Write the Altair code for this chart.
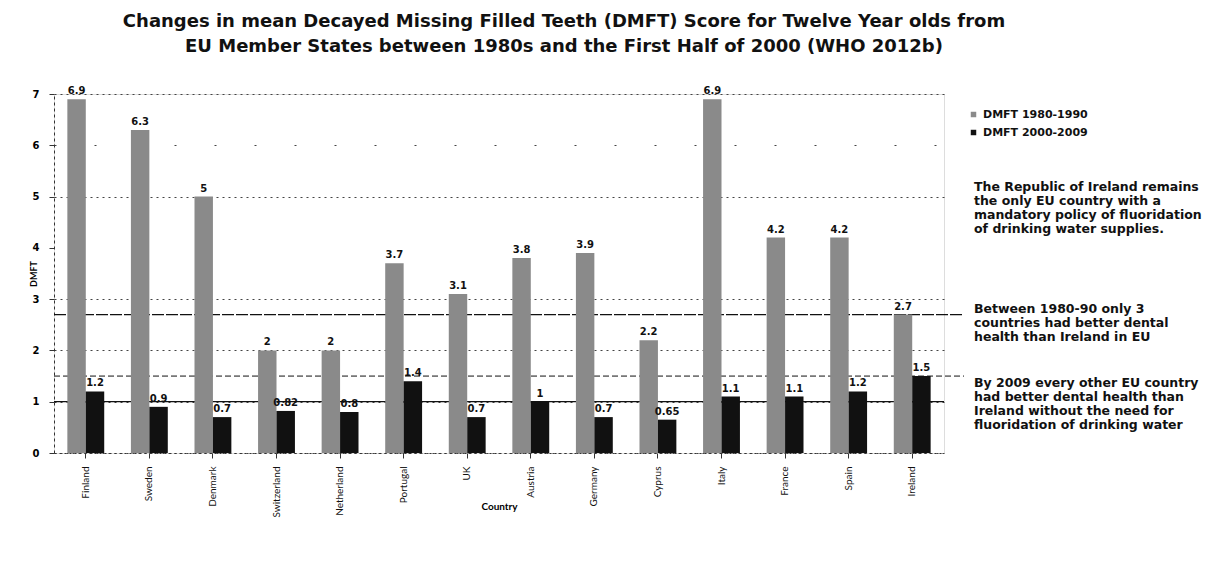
import altair as alt
import pandas as pd

countries = ["Finland", "Sweden", "Denmark", "Switzerland", "Netherland", "Portugal", "UK",
             "Austria", "Germany", "Cyprus", "Italy", "France", "Spain", "Ireland"]
dmft_1980 = [6.9, 6.3, 5, 2, 2, 3.7, 3.1, 3.8, 3.9, 2.2, 6.9, 4.2, 4.2, 2.7]
dmft_2000 = [1.2, 0.9, 0.7, 0.82, 0.8, 1.4, 0.7, 1, 0.7, 0.65, 1.1, 1.1, 1.2, 1.5]
series_names = ["DMFT 1980-1990", "DMFT 2000-2009"]
series_colors = ["#8a8a8a", "#111111"]
reference_levels = [1.0, 1.5, 2.7]
note1 = ["The Republic of Ireland remains", "the only EU country with a",
         "mandatory policy of fluoridation", "of drinking water supplies."]
note2 = ["Between 1980-90 only 3", "countries had better dental", "health than Ireland in EU"]
note3 = ["By 2009 every other EU country", "had better dental health than",
         "Ireland without the need for", "fluoridation of drinking water"]

rows = []
for c, a, b in zip(countries, dmft_1980, dmft_2000):
    rows.append({"Country": c, "Series": series_names[0], "DMFT": a, "label": f"{a:g}"})
    rows.append({"Country": c, "Series": series_names[1], "DMFT": b, "label": f"{b:g}"})
df = pd.DataFrame(rows)

FONT = "Lato"
NFONT = "DejaVu Sans"
W, H = 890, 359

x_enc = alt.X("Country:N", sort=countries, title="Country",
              scale=alt.Scale(paddingInner=0.42, paddingOuter=0.21),
              axis=alt.Axis(labelAngle=-90, labelFontSize=10, labelFont=FONT, labelColor="#111",
                            titleFont=FONT, titleFontSize=10, titleFontWeight="bold",
                            titleY=48, ticks=True, tickColor="#333", domainColor="#333",
                            domainDash=[2, 3], labelPadding=8))
y_scale = alt.Scale(domain=[0, 7], nice=False)

bars = alt.Chart(df).mark_bar().encode(
    x=x_enc,
    xOffset=alt.XOffset("Series:N", sort=series_names),
    y=alt.Y("DMFT:Q", scale=y_scale, title="DMFT",
            axis=alt.Axis(values=[0, 1, 2, 3, 4, 5, 6, 7], grid=True,
                          gridDash={"condition": {"test": "datum.value == 6", "value": [2, 38]},
                                    "value": [2, 4]},
                          gridOpacity={"condition": {"test": "datum.value == 4", "value": 0},
                                       "value": 1},
                          gridColor="#444", gridWidth=1, labelFont=NFONT, labelFontSize=10,
                          labelFontWeight="bold", titleFont=FONT, titleFontSize=9,
                          titleFontWeight="bold", domainDash=[3, 3], domainColor="#333",
                          tickColor="#333", labelPadding=10, titleX=-21, titleY=H / 2,
                          titleBaseline="middle", titleAlign="center")),
    color=alt.Color("Series:N", sort=series_names,
                    scale=alt.Scale(domain=series_names, range=series_colors),
                    legend=alt.Legend(title=None, orient="none", legendX=914, legendY=15,
                                      labelFont=NFONT, labelFontSize=11, labelFontWeight="bold",
                                      labelColor="#111", symbolType="square", symbolSize=30,
                                      rowPadding=6)),
)

labels = alt.Chart(df).mark_text(dy=-8, font=NFONT, fontSize=10, fontWeight="bold",
                                 color="#111").encode(
    x=alt.X("Country:N", sort=countries),
    xOffset=alt.XOffset("Series:N", sort=series_names),
    y=alt.Y("DMFT:Q", scale=y_scale),
    text="label:N",
)

ref_df = pd.DataFrame({"DMFT": reference_levels})
rule1 = alt.Chart(ref_df.iloc[[0]]).mark_rule(color="#111", strokeWidth=1.2).encode(
    y=alt.Y("DMFT:Q", scale=y_scale), x=alt.value(0), x2=alt.value(W))
rule2 = alt.Chart(ref_df.iloc[[1]]).mark_rule(color="#111", strokeWidth=1,
                                               strokeDash=[6, 3]).encode(
    y=alt.Y("DMFT:Q", scale=y_scale), x=alt.value(0), x2=alt.value(W + 20))
rule3 = alt.Chart(ref_df.iloc[[2]]).mark_rule(color="#111", strokeWidth=1.2,
                                               strokeDash=[12, 2]).encode(
    y=alt.Y("DMFT:Q", scale=y_scale), x=alt.value(0), x2=alt.value(W + 20))

def note(lines, y0):
    d = pd.DataFrame({"t": ["\n".join(lines)]})
    return alt.Chart(d).mark_text(align="left", baseline="top", font=NFONT, fontSize=12.5,
                                  fontWeight="bold", color="#111", lineBreak="\n",
                                  lineHeight=14).encode(
        x=alt.value(920), y=alt.value(y0), text="t:N")

n1 = note(note1, 87)
n2 = note(note2, 209)
n3 = note(note3, 283)

chart = alt.layer(rule1, rule2, rule3, bars, labels, n1, n2, n3).properties(
    width=W, height=H,
    padding={"left": 21, "top": 5, "right": 5, "bottom": 5},
    title=alt.TitleParams(
        ["Changes in mean Decayed Missing Filled Teeth (DMFT) Score for Twelve Year olds from",
         "EU Member States between 1980s and the First Half of 2000 (WHO 2012b)"],
        font=NFONT, fontSize=18, fontWeight="bold", color="#111", anchor="middle",
        offset=30, lineHeight=25, dx=65),
).configure_view(stroke=None).configure(background="white")

chart.save("out.html", embed_options={"renderer": "svg", "actions": False})
